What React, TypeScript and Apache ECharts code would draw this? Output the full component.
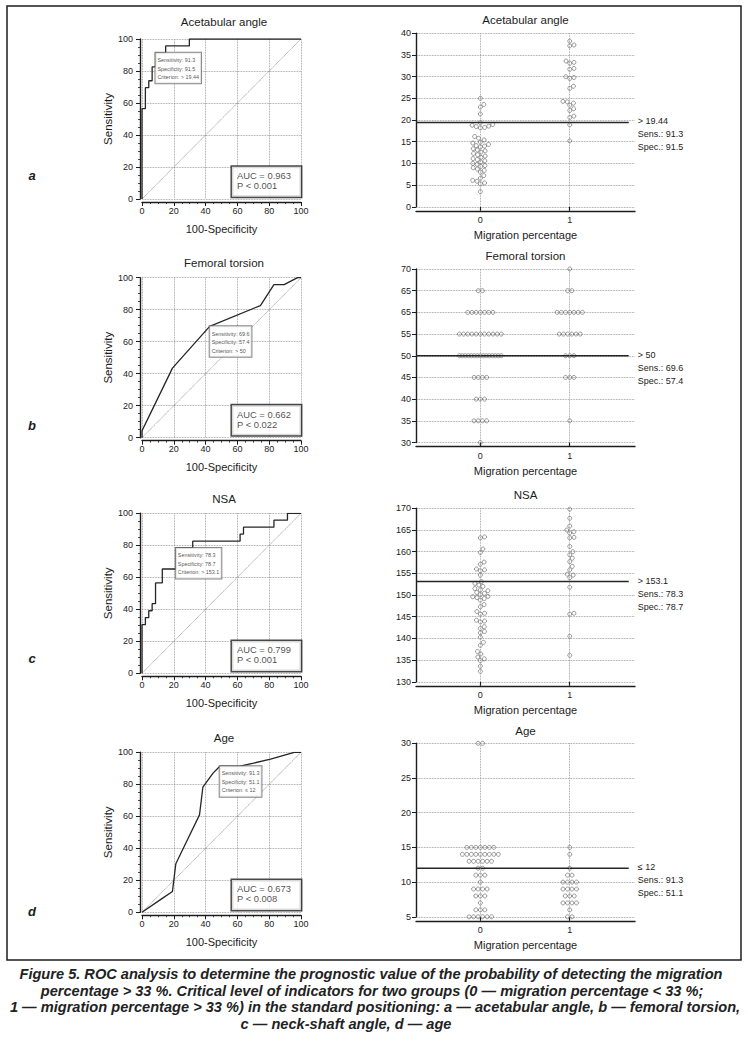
import React, { useEffect, useRef } from "react";
import * as echarts from "echarts";

// ---------------- data ----------------
const titles = ["Acetabular angle", "Femoral torsion", "NSA", "Age"];
const panelLetters = ["a", "b", "c", "d"];
const groupLabels = ["0", "1"];

// ROC curves: [100-Specificity, Sensitivity]
const rocAcetabular = [[0,0],[0,56.5],[2.13,56.5],[2.13,69.6],[4.26,69.6],[4.26,73.9],[6.38,73.9],[6.38,82.6],[8.51,82.6],[8.51,91.3],[14.89,91.3],[14.89,95.7],[29.79,95.7],[29.79,100],[100,100]];
const rocFemoral = [[0,0],[0,4.3],[4.26,13.0],[19.15,43.5],[42.55,69.6],[74.47,82.6],[82.98,95.7],[89.36,95.7],[97.87,100],[100,100]];
const rocNSA = [[0,0],[0,30.4],[2.13,30.4],[2.13,34.8],[4.26,34.8],[4.26,39.1],[6.38,39.1],[6.38,43.5],[8.51,43.5],[8.51,56.5],[12.77,56.5],[12.77,65.2],[21.28,65.2],[21.28,78.3],[31.91,78.3],[31.91,82.6],[61.7,82.6],[61.7,87.0],[63.83,87.0],[63.83,91.3],[82.98,91.3],[82.98,95.7],[91.49,95.7],[91.49,100],[100,100]];
const rocAge = [[0,0],[12.77,8.7],[19.15,13.0],[21.28,30.4],[27.66,43.5],[36.17,60.9],[38.3,78.3],[44.68,87.0],[48.94,91.3],[61.7,91.3],[80.85,95.7],[95.74,100],[100,100]];
const rocCurves = [rocAcetabular, rocFemoral, rocNSA, rocAge];

const sensitivity = [91.3, 69.6, 78.3, 91.3];
const specificity = [91.5, 57.4, 78.7, 51.1];
const rocCriterion = ["> 19,44", "> 50", "> 153.1", "\u2264 12"];
const dotCriterion = ["> 19.44", "> 50", "> 153.1", "\u2264 12"];
const cutoffs = [19.44, 50, 153.1, 12];
const aucValues = ["0.963", "0.662", "0.799", "0.673"];
const pValues = ["0.001", "0.022", "0.001", "0.008"];

const dotMin = [0, 30, 130, 5];
const dotMax = [40, 70, 170, 30];
const femoralTickLabels = ["30", "35", "40", "45", "50", "55", "65", "65", "70"];

// dot-plot values (continuous)
const acetabular0 = [25.0,23.6,23.0,21.4,19.4,19.0,18.8,18.6,18.5,18.3,18.2,16.2,15.8,15.4,14.9,14.7,14.4,14.1,14.0,13.8,13.4,13.1,12.9,12.6,12.3,12.0,11.7,11.4,11.1,10.9,10.6,10.3,10.0,9.8,9.5,9.3,9.0,8.7,8.4,8.0,7.2,6.6,6.1,5.9,5.5,5.3,3.5];
const acetabular1 = [38.2,37.3,37.1,33.6,33.3,33.1,31.9,31.7,30.0,29.8,29.6,27.8,27.3,24.3,24.2,23.9,23.4,22.6,22.2,20.9,20.6,18.9,15.2];
const nsa0 = [163.4,163.2,160.6,159.8,157.6,157.1,156.0,155.8,155.6,154.6,153.1,152.7,152.3,152.0,151.5,151.2,151.0,150.6,150.4,150.1,149.7,149.6,149.4,149.2,148.8,147.8,147.3,146.2,145.8,145.6,144.2,144.0,143.8,142.7,142.3,141.6,141.3,140.3,139.1,138.4,137.0,136.4,135.7,135.3,134.9,133.6,132.4];
const nsa1 = [169.8,167.7,165.9,165.0,164.6,164.3,163.3,163.2,161.2,160.0,159.3,158.5,157.7,156.6,155.8,154.8,154.6,154.0,151.8,145.8,145.6,140.5,136.1];
// dot-plot values (discrete: level + count)
const femoralLevels = [30, 35, 40, 45, 50, 55, 60, 65, 70];
const femoralCount0 = [1, 4, 3, 4, 15, 11, 7, 2, 0];
const femoralCount1 = [0, 1, 0, 3, 3, 6, 7, 2, 1];
const ageLevels = [5, 6, 7, 8, 9, 10, 11, 12, 13, 14, 15, 30];
const ageCount0 = [6, 3, 1, 3, 4, 1, 3, 2, 6, 9, 7, 2];
const ageCount1 = [2, 1, 4, 3, 4, 4, 2, 1, 0, 1, 1, 0];

const captionLines = [
  "Figure 5. ROC analysis to determine the prognostic value of the probability of detecting the migration",
  "percentage > 33 %. Critical level of indicators for two groups (0 \u2014 migration percentage < 33 %;",
  "1 \u2014 migration percentage > 33 %) in the standard positioning: a \u2014 acetabular angle, b \u2014 femoral torsion,",
  "c \u2014 neck-shaft angle, d \u2014 age",
];

// ---------------- layout ----------------
const FONT = "'Liberation Sans', Arial, sans-serif";
const ROC_LEFT = 142, ROC_W = 159, ROC_H = 160;
const ROC_TOPS = [39, 277.7, 513.3, 752.3];
const ROC_TITLE_Y = [21.7, 262.7, 499, 738];
const DOT_LEFT = 416, DOT_W = 219, DOT_H = 173.5;
const DOT_TOPS = [33.3, 269, 508.3, 743.3];
const DOT_TITLE_Y = [20, 256, 495, 730.7];
const DOT_XMIN = -0.72, DOT_XMAX = 1.73, CUT_END = 1.66;
const LETTER_Y = [175, 425, 658, 911];
const CAPTION_X = [371, 372, 375, 346];
const CAPTION_Y = [974, 990.5, 1007, 1023.5];

const INK = "#1c1c1c";
const GRIDC = "#8a8a8a";

function swarm(values: number[], group: number, ppuY: number, ppuX: number, d: number) {
  const sorted = [...values].sort((a, b) => a - b);
  const placed: { x: number; y: number }[] = [];
  const out: number[][] = [];
  for (const v of sorted) {
    const y = v * ppuY;
    const forb: number[][] = [];
    for (const p of placed) {
      const dy = Math.abs(p.y - y);
      if (dy < d) {
        const dx = Math.sqrt(d * d - dy * dy);
        forb.push([p.x - dx, p.x + dx]);
      }
    }
    const cands = [0];
    forb.forEach(([a, b]) => cands.push(a, b));
    cands.sort((a, b) => Math.abs(a) - Math.abs(b) || b - a);
    let x = 0;
    for (const c of cands) {
      if (!forb.some(([a, b]) => c > a + 1e-6 && c < b - 1e-6)) { x = c; break; }
    }
    placed.push({ x, y });
    out.push([group + x / ppuX, v]);
  }
  return out;
}

function rows(levels: number[], counts: number[], group: number, ppuX: number, s: number, maxW: number) {
  const out: number[][] = [];
  levels.forEach((lv, k) => {
    const n = counts[k];
    if (!n) return;
    const step = n > 1 ? Math.min(s, maxW / (n - 1)) : 0;
    for (let j = 0; j < n; j++) out.push([group + ((j - (n - 1) / 2) * step) / ppuX, lv]);
  });
  return out;
}

function buildOption() {
  const grid: any[] = [], xAxis: any[] = [], yAxis: any[] = [], series: any[] = [], graphic: any[] = [];
  const axisLine = { show: true, onZero: false, lineStyle: { color: INK, width: 1.4 } };
  const split = { show: true, lineStyle: { type: "dotted", color: GRIDC, width: 0.8 } };
  const lbl = { fontSize: 9, color: INK, fontFamily: FONT };
  const ppuX = DOT_W / (DOT_XMAX - DOT_XMIN);

  for (let i = 0; i < 4; i++) {
    const rg = 2 * i, dg = 2 * i + 1;
    grid.push({ left: ROC_LEFT, top: ROC_TOPS[i], width: ROC_W, height: ROC_H });
    grid.push({ left: DOT_LEFT, top: DOT_TOPS[i], width: DOT_W, height: DOT_H });

    // ROC axes
    xAxis.push({
      gridIndex: rg, type: "value", min: 0, max: 100, interval: 20, offset: 3,
      axisLine, axisTick: { show: true, length: 4, lineStyle: { color: INK, width: 1 } },
      minorTick: { show: true, splitNumber: 4, length: 2, lineStyle: { color: INK, width: 0.8 } },
      axisLabel: { ...lbl, margin: 4 }, splitLine: split,
      name: "100-Specificity", nameLocation: "middle", nameGap: 21,
      nameTextStyle: { fontSize: 11, color: INK, fontFamily: FONT },
    });
    yAxis.push({
      gridIndex: rg, type: "value", min: 0, max: 100, interval: 20, offset: 2,
      axisLine, axisTick: { show: true, length: 4, lineStyle: { color: INK, width: 1 } },
      minorTick: { show: true, splitNumber: 4, length: 2, lineStyle: { color: INK, width: 0.8 } },
      axisLabel: { ...lbl, margin: 7 }, splitLine: split,
      name: "Sensitivity", nameLocation: "middle", nameGap: 26,
      nameTextStyle: { fontSize: 11.5, color: INK, fontFamily: FONT },
    });
    // Dot axes
    xAxis.push({
      gridIndex: dg, type: "value", min: DOT_XMIN, max: DOT_XMAX, offset: 4,
      axisLine, axisTick: { show: true, inside: true, length: 4, customValues: [0, 1], lineStyle: { color: INK, width: 1.2 } },
      axisLabel: { ...lbl, margin: 5, customValues: [0, 1], formatter: (v: number) => groupLabels[Math.round(v)] },
      splitLine: { show: false },
      name: "Migration percentage", nameLocation: "middle", nameGap: 19,
      nameTextStyle: { fontSize: 11, color: INK, fontFamily: FONT },
    });
    yAxis.push({
      gridIndex: dg, type: "value", min: dotMin[i], max: dotMax[i], interval: 5,
      axisLine, axisTick: { show: true, length: 4, lineStyle: { color: INK, width: 1 } },
      axisLabel: {
        ...lbl, margin: 5,
        formatter: i === 1 ? (v: number) => femoralTickLabels[Math.round((v - dotMin[1]) / 5)] : undefined,
      },
      splitLine: split,
    });

    // ROC series
    series.push({
      type: "line", xAxisIndex: rg, yAxisIndex: rg, data: [[0, 0], [100, 100]],
      showSymbol: false, symbol: "none", silent: true,
      lineStyle: { type: "dotted", color: "#6a6a6a", width: 0.8 }, z: 2,
    });
    series.push({
      type: "line", xAxisIndex: rg, yAxisIndex: rg, data: rocCurves[i],
      showSymbol: false, symbol: "none", silent: true,
      lineStyle: { color: "#262626", width: 1.3 }, z: 3,
    });
    series.push({
      type: "scatter", xAxisIndex: rg, yAxisIndex: rg, silent: true, z: 5,
      data: [[+(100 - specificity[i]).toFixed(1), sensitivity[i]]],
      symbol: "rect", symbolSize: 0.1, itemStyle: { color: "rgba(0,0,0,0)" },
      label: {
        show: true, position: [0, 0], align: "left", verticalAlign: "top",
        formatter: `Sensitivity: ${sensitivity[i]}\nSpecificity: ${specificity[i]}\nCriterion: ${rocCriterion[i]}`,
        fontSize: 5.4, lineHeight: 8.5, fontFamily: FONT, color: "#222",
        backgroundColor: "#fff", borderColor: "#6a6a6a", borderWidth: 1, padding: [3, 2, 2, 2],
      },
    });
    series.push({
      type: "scatter", xAxisIndex: rg, yAxisIndex: rg, silent: true, z: 5,
      data: [[100, 0]], symbol: "rect", symbolSize: 0.1, itemStyle: { color: "rgba(0,0,0,0)" },
      label: {
        show: true, position: [-69, -32.3], align: "left", verticalAlign: "top",
        formatter: `AUC = ${aucValues[i]}\nP < ${pValues[i]}`,
        fontSize: 9.4, lineHeight: 10, width: 59, fontFamily: FONT, color: INK,
        backgroundColor: "#fff", borderColor: INK, borderWidth: 1.5, padding: [4, 5, 6, 5],
      },
    });

    // Dot-plot series
    const ppuY = DOT_H / (dotMax[i] - dotMin[i]);
    let g0: number[][] = [], g1: number[][] = [];
    if (i === 0) { g0 = swarm(acetabular0, 0, ppuY, ppuX, 4.3); g1 = swarm(acetabular1, 1, ppuY, ppuX, 4.3); }
    if (i === 1) { g0 = rows(femoralLevels, femoralCount0, 0, ppuX, 4.2, 42); g1 = rows(femoralLevels, femoralCount1, 1, ppuX, 4.2, 42); }
    if (i === 2) { g0 = swarm(nsa0, 0, ppuY, ppuX, 4.3); g1 = swarm(nsa1, 1, ppuY, ppuX, 4.3); }
    if (i === 3) { g0 = rows(ageLevels, ageCount0, 0, ppuX, 4.5, 42); g1 = rows(ageLevels, ageCount1, 1, ppuX, 4.5, 42); }
    series.push({
      type: "scatter", xAxisIndex: dg, yAxisIndex: dg, silent: true, z: 3,
      data: [...g0, ...g1], symbol: "circle", symbolSize: 4,
      itemStyle: { color: "rgba(255,255,255,0)", borderColor: "#5e5e5e", borderWidth: 0.8 },
      markLine: {
        silent: true, symbol: ["none", "none"], label: { show: false },
        lineStyle: { type: "dotted", color: GRIDC, width: 0.8 },
        data: [{ xAxis: 0 }, { xAxis: 1 }],
      },
    });
    series.push({
      type: "line", xAxisIndex: dg, yAxisIndex: dg, silent: true, z: 4,
      data: [[DOT_XMIN, cutoffs[i]], [CUT_END, cutoffs[i]]],
      showSymbol: false, symbol: "none", lineStyle: { color: "#262626", width: 1.5 },
      endLabel: {
        show: true, distance: 9, offset: [0, 12],
        formatter: `${dotCriterion[i]}\nSens.: ${sensitivity[i]}\nSpec.: ${specificity[i]}`,
        fontSize: 9, lineHeight: 13, color: INK, fontFamily: FONT,
      },
    });

    // titles & letters
    graphic.push({
      type: "text", x: 224, y: ROC_TITLE_Y[i], silent: true,
      style: { text: titles[i], fontSize: 11.5, fontFamily: FONT, fill: INK, align: "center", verticalAlign: "middle" },
    });
    graphic.push({
      type: "text", x: 525.5, y: DOT_TITLE_Y[i], silent: true,
      style: { text: titles[i], fontSize: 11.5, fontFamily: FONT, fill: INK, align: "center", verticalAlign: "middle" },
    });
    graphic.push({
      type: "text", x: 32, y: LETTER_Y[i], silent: true,
      style: { text: panelLetters[i], fontSize: 13, fontStyle: "italic", fontWeight: "bold", fontFamily: FONT, fill: INK, align: "center", verticalAlign: "middle" },
    });
  }

  graphic.push({
    type: "rect", silent: true, z: -1,
    shape: { x: 7, y: 6, width: 734, height: 954 },
    style: { fill: "none", stroke: INK, lineWidth: 1.5 },
  });
  captionLines.forEach((t, k) => {
    graphic.push({
      type: "text", x: CAPTION_X[k], y: CAPTION_Y[k], silent: true,
      style: { text: t, fontSize: 14.6, fontStyle: "italic", fontWeight: "bold", fontFamily: FONT, fill: "#222", align: "center", verticalAlign: "middle" },
    });
  });

  return {
    animation: false,
    backgroundColor: "#ffffff",
    textStyle: { fontFamily: FONT },
    grid, xAxis, yAxis, series, graphic,
  };
}

export default function App() {
  const ref = useRef<HTMLDivElement>(null);
  useEffect(() => {
    const chart = echarts.init(ref.current as HTMLDivElement, null, { renderer: "svg" });
    chart.setOption(buildOption() as any);
    return () => chart.dispose();
  }, []);
  return (
    <div
      ref={ref}
      style={{ position: "absolute", left: 0, top: 0, width: 748, height: 1044, background: "#fff" }}
    />
  );
}
